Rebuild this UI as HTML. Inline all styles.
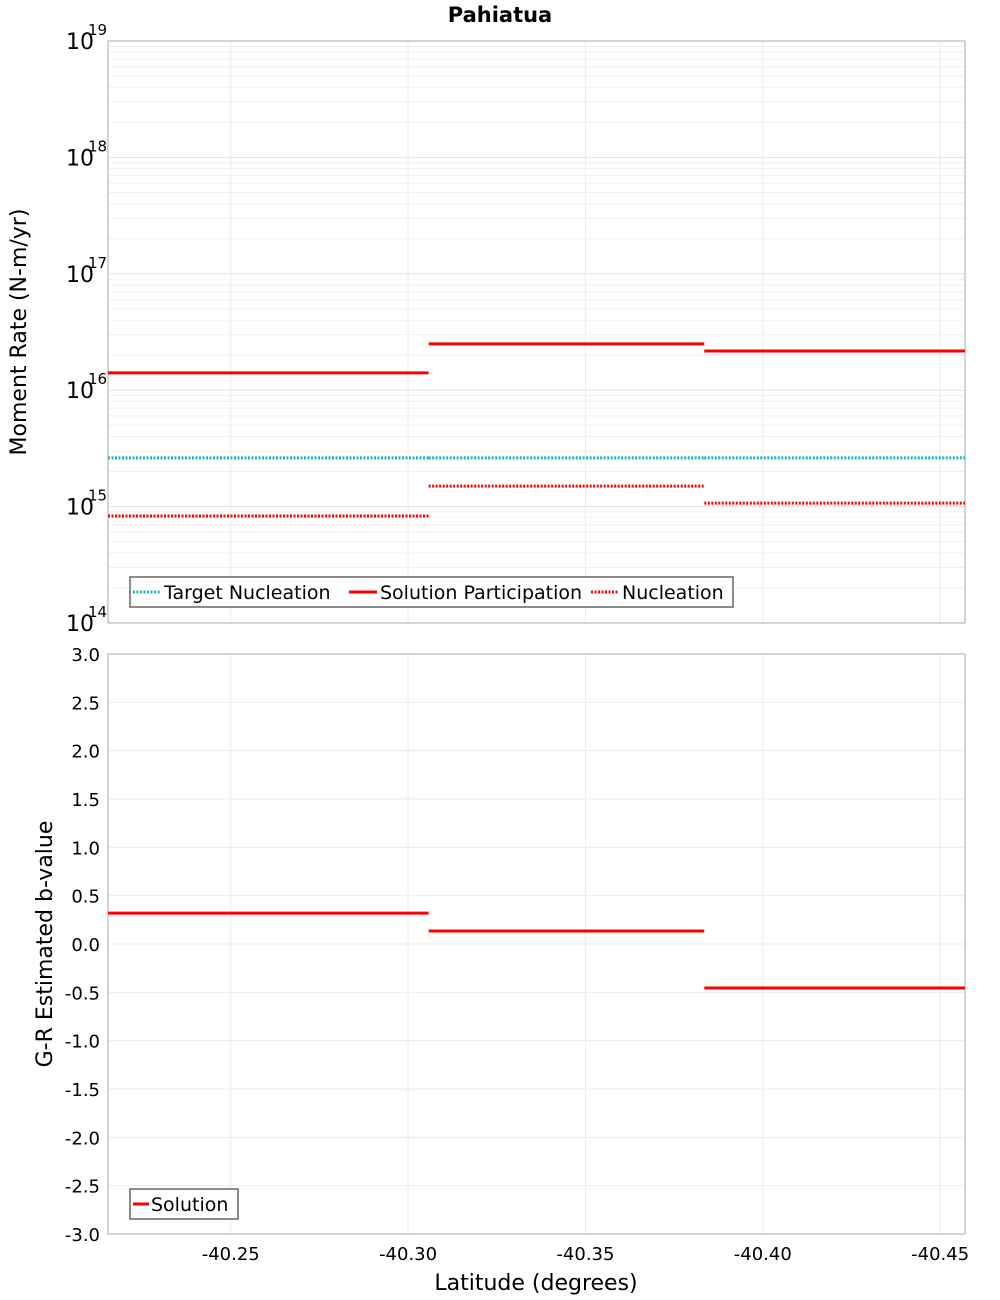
<!DOCTYPE html>
<html><head><meta charset="utf-8"><style>body{margin:0;background:#fff}svg{display:block;font-family:"DejaVu Sans","Liberation Sans",sans-serif}</style></head>
<body>
<svg id="c" width="1000" height="1300"></svg>
<script>
const latEdges = [-40.2154, -40.3058, -40.3835, -40.457];
const participation = [1.41e16, 2.5e16, 2.17e16];
const targetNucleation = [2.62e15, 2.62e15, 2.62e15];
const nucleation = [8.3e14, 1.5e15, 1.07e15];
const bValues = [0.32, 0.135, -0.455];
const xTicks = [-40.25, -40.30, -40.35, -40.40, -40.45];
const xTickLabels = ["-40.25", "-40.30", "-40.35", "-40.40", "-40.45"];
const logTicks = [14, 15, 16, 17, 18, 19];
const bTicks = [-3, -2.5, -2, -1.5, -1, -0.5, 0, 0.5, 1, 1.5, 2, 2.5, 3];

const NS = "http://www.w3.org/2000/svg";
const svg = document.getElementById('c');
function mk(tag, attrs, parent, name) {
  const e = document.createElementNS(NS, tag);
  for (const k in attrs) e.setAttribute(k, attrs[k]);
  
  
  (parent || svg).appendChild(e);
  return e;
}
const L = 108, R = 965, T1 = 41, B1 = 623, T2 = 654, B2 = 1234;
const xS = v => L + (v - latEdges[0]) / (latEdges[3] - latEdges[0]) * (R - L);
const yLog = v => B1 - (Math.log10(v) - 14) / 5 * (B1 - T1);
const yB = v => B2 - (v + 3) / 6 * (B2 - T2);

// grids
const g = mk('g', {}, svg, 'grid');
xTicks.forEach(t => {
  mk('line', {x1: xS(t), x2: xS(t), y1: T1, y2: B1, stroke: '#ebebeb'}, g, 'x-grid-top');
  mk('line', {x1: xS(t), x2: xS(t), y1: T2, y2: B2, stroke: '#ebebeb'}, g, 'x-grid-bottom');
});
for (let d = 14; d < 19; d++) for (let m = 1; m < 10; m++) {
  const y = yLog(m * Math.pow(10, d));
  mk('line', {x1: L, x2: R, y1: y, y2: y, stroke: m === 1 ? '#e2e2e2' : '#f0f0f0'}, g, 'y-grid-top');
}
bTicks.forEach(t => mk('line', {x1: L, x2: R, y1: yB(t), y2: yB(t), stroke: '#ebebeb'}, g, 'y-grid-bottom'));

mk('rect', {x: L, y: T1, width: R - L, height: B1 - T1, fill: 'none', stroke: '#aaa'}, svg, 'top-plot-frame');
mk('rect', {x: L, y: T2, width: R - L, height: B2 - T2, fill: 'none', stroke: '#aaa'}, svg, 'bottom-plot-frame');

const title = mk('text', {x: 500, y: 22, 'text-anchor': 'middle', 'font-size': 21, 'font-weight': 'bold'}, svg, 'chart-title');
title.textContent = 'Pahiatua';

// log ticks
logTicks.forEach(d => {
  const y = yLog(Math.pow(10, d));
  const t = mk('text', {x: 66, y: y + 8, 'font-size': 22}, svg, 'y-tick-label-top');
  t.textContent = '10';
  const s = mk('text', {x: 88, y: y - 6, 'font-size': 15}, svg, 'y-tick-exponent');
  s.textContent = String(d);
});
bTicks.forEach(v => {
  const t = mk('text', {x: 100, y: yB(v) + 7, 'text-anchor': 'end', 'font-size': 18}, svg, 'y-tick-label-bottom');
  t.textContent = v.toFixed(1);
});
xTicks.forEach((v, i) => {
  const t = mk('text', {x: xS(v), y: 1260, 'text-anchor': 'middle', 'font-size': 18}, svg, 'x-tick-label');
  t.textContent = xTickLabels[i];
});
const yl1 = mk('text', {transform: 'translate(26,332) rotate(-90)', 'text-anchor': 'middle', 'font-size': 22}, svg, 'y-axis-title-top');
yl1.textContent = 'Moment Rate (N-m/yr)';
const yl2 = mk('text', {transform: 'translate(52,944) rotate(-90)', 'text-anchor': 'middle', 'font-size': 22}, svg, 'y-axis-title-bottom');
yl2.textContent = 'G-R Estimated b-value';
const xl = mk('text', {x: 536, y: 1290, 'text-anchor': 'middle', 'font-size': 22}, svg, 'x-axis-title');
xl.textContent = 'Latitude (degrees)';

// series
for (let i = 0; i < 3; i++) {
  const x1 = xS(latEdges[i]), x2 = xS(latEdges[i + 1]);
  mk('line', {x1, x2, y1: yLog(targetNucleation[i]), y2: yLog(targetNucleation[i]), stroke: '#14b4b4', 'stroke-width': 3, 'stroke-dasharray': '2,1.5'}, svg, 'target-nucleation-segment');
  mk('line', {x1, x2, y1: yLog(nucleation[i]), y2: yLog(nucleation[i]), stroke: '#f00', 'stroke-width': 3, 'stroke-dasharray': '2,1.5'}, svg, 'nucleation-segment');
  mk('line', {x1, x2, y1: yLog(participation[i]), y2: yLog(participation[i]), stroke: '#f00', 'stroke-width': 3}, svg, 'participation-segment');
  mk('line', {x1, x2, y1: yB(bValues[i]), y2: yB(bValues[i]), stroke: '#f00', 'stroke-width': 3}, svg, 'b-value-segment');
}

// legends
const lg = mk('g', {}, svg, 'legend-top');
mk('rect', {x: 130, y: 577, width: 603, height: 30, fill: '#fff', stroke: '#666', 'stroke-width': 1.5}, lg, 'legend-box');
const items = [[133, 'Target Nucleation', '#14b4b4', true], [349, 'Solution Participation', '#f00', false], [591, 'Nucleation', '#f00', true]];
items.forEach(([x, txt, c, dash]) => {
  const a = {x1: x, x2: x + 28, y1: 592, y2: 592, stroke: c, 'stroke-width': 3};
  if (dash) a['stroke-dasharray'] = '2,1.5';
  mk('line', a, lg, 'legend-swatch');
  const t = mk('text', {x: x + 31, y: 599, 'font-size': 19}, lg, 'legend-entry');
  t.textContent = txt;
});
const lg2 = mk('g', {}, svg, 'legend-bottom');
mk('rect', {x: 130, y: 1189, width: 108, height: 30, fill: '#fff', stroke: '#666', 'stroke-width': 1.5}, lg2, 'legend-box');
mk('line', {x1: 133, x2: 149, y1: 1204, y2: 1204, stroke: '#f00', 'stroke-width': 3}, lg2, 'legend-swatch');
const t2 = mk('text', {x: 151, y: 1211, 'font-size': 19}, lg2, 'legend-entry');
t2.textContent = 'Solution';
</script>
</body></html>
